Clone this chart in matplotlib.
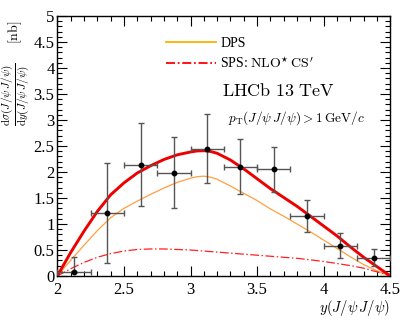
import numpy as np
import matplotlib
matplotlib.use("Agg")
import matplotlib.pyplot as plt
from matplotlib.lines import Line2D
from matplotlib.ticker import MultipleLocator

plt.rcParams['font.family'] = ['Liberation Serif', 'DejaVu Serif']
plt.rcParams['mathtext.fontset'] = 'cm'

# Data points (bin centres, values, errors)
x_data = [2.125, 2.375, 2.625, 2.875, 3.125, 3.375, 3.625, 3.875, 4.125, 4.375]
y_data = [0.08, 1.22, 2.14, 1.99, 2.44, 2.10, 2.05, 1.16, 0.58, 0.34]
y_lo = [0.08, 0.25, 1.35, 1.31, 1.78, 1.58, 1.62, 0.85, 0.34, 0.20]
y_hi = [0.37, 2.17, 2.95, 2.67, 3.12, 2.63, 2.48, 1.46, 0.83, 0.52]
x_halfwidth = [0.125] * 10

# Theory curves
x_curve = [2.0, 2.1, 2.2, 2.3, 2.4, 2.5, 2.6, 2.7, 2.8, 2.9, 3.0, 3.05, 3.1, 3.15, 3.2,
           3.3, 3.4, 3.5, 3.6, 3.7, 3.8, 3.9, 4.0, 4.1, 4.2, 4.3, 4.4, 4.5]
dps = [0.0, 0.30, 0.59, 0.87, 1.12, 1.30, 1.44, 1.57, 1.69, 1.80, 1.88, 1.91, 1.92, 1.90, 1.86,
       1.73, 1.59, 1.45, 1.29, 1.15, 1.00, 0.85, 0.69, 0.53, 0.37, 0.22, 0.10, 0.0]
sps = [0.0, 0.14, 0.26, 0.36, 0.43, 0.48, 0.51, 0.52, 0.52, 0.51, 0.50, 0.49, 0.48, 0.47, 0.46,
       0.44, 0.42, 0.40, 0.38, 0.36, 0.34, 0.31, 0.28, 0.24, 0.20, 0.15, 0.08, 0.0]
total = [0.0, 0.45, 0.86, 1.24, 1.56, 1.79, 1.98, 2.12, 2.24, 2.33, 2.385, 2.405, 2.41, 2.395, 2.36,
         2.23, 2.06, 1.87, 1.68, 1.51, 1.34, 1.15, 0.96, 0.77, 0.56, 0.36, 0.18, 0.0]

fig = plt.figure(figsize=(4.12, 3.29), dpi=100)
ax = fig.add_axes([57.3/412, 1-276/329, 333/412, 260/329])

ax.plot(x_curve, dps, color='#ff9f40', lw=0.9, zorder=2)
ax.plot(x_curve, sps, color='#ff2020', lw=0.9, ls=(0, (7, 2, 1.2, 2)), zorder=2)
ax.plot(x_curve, total, color='#ee0000', lw=2.1, zorder=3, solid_capstyle='butt',
        solid_joinstyle='round')

yerr = [np.array(y_data) - np.array(y_lo), np.array(y_hi) - np.array(y_data)]
ax.errorbar(x_data, y_data, xerr=x_halfwidth, yerr=yerr, fmt='o', color='black',
            ecolor='#555555', elinewidth=1.0, capsize=2.0, capthick=1.0,
            markersize=3.2, zorder=4)

ax.set_xlim(2, 4.5)
ax.set_ylim(0, 5)
ax.xaxis.set_major_locator(MultipleLocator(0.5))
ax.xaxis.set_minor_locator(MultipleLocator(0.1))
ax.yaxis.set_major_locator(MultipleLocator(0.5))
ax.yaxis.set_minor_locator(MultipleLocator(0.1))
ax.set_xticks([2, 2.5, 3, 3.5, 4, 4.5])
ax.set_xticklabels(['2', '2.5', '3', '3.5', '4', '4.5'])
ax.set_yticks([0, 0.5, 1, 1.5, 2, 2.5, 3, 3.5, 4, 4.5, 5])
ax.set_yticklabels(['0', '0.5', '1', '1.5', '2', '2.5', '3', '3.5', '4', '4.5', '5'])
ax.tick_params(which='both', direction='in', top=True, right=True, labelsize=12, width=0.8)
ax.tick_params(which='major', length=7, pad=2)
ax.tick_params(which='minor', length=3.5)
ax.tick_params(axis='x', pad=4)
for s in ax.spines.values():
    s.set_linewidth(1.0)

# Axis titles
fig.text(390/412, 1-308/329, r'$y(J/\psi\,J/\psi)$', ha='right', va='center', fontsize=10.5)
fig.text(17/412, 1-94/329,
         r'$\frac{\mathrm{d}\sigma(J/\psi\,J/\psi)}{\mathrm{d}y(J/\psi\,J/\psi)}$',
         rotation=90, ha='center', va='center', fontsize=11.5)
fig.text(15/412, 1-32/329, r'$[\mathrm{nb}]$', rotation=90, ha='center', va='center', fontsize=10)

# Legend
handles = [Line2D([], [], color='#ffb000', lw=1.3),
           Line2D([], [], color='#ff0000', lw=1.3, ls=(0, (5, 1.5, 1, 1.5)))]
labels = ['DPS', r'SPS: $\mathrm{NLO}^{\star}\,\mathrm{CS}^{\prime}$']
leg = ax.legend(handles, labels, loc='upper left', bbox_to_anchor=(0.31, 0.94),
                frameon=False, fontsize=10, handlelength=3.6, handletextpad=0.3,
                labelspacing=0.35, borderaxespad=0)

fig.text(222/412, 1-92/329, r'$\mathrm{LHCb\ 13\ TeV}$', ha='left', va='center', fontsize=13)
fig.text(228/412, 1-118/329,
         r'$p_{\mathrm{T}}(J/\psi\,J/\psi) > 1\,\mathrm{GeV}/c$',
         ha='left', va='center', fontsize=9.6)

fig.savefig('out.png', dpi=100)
